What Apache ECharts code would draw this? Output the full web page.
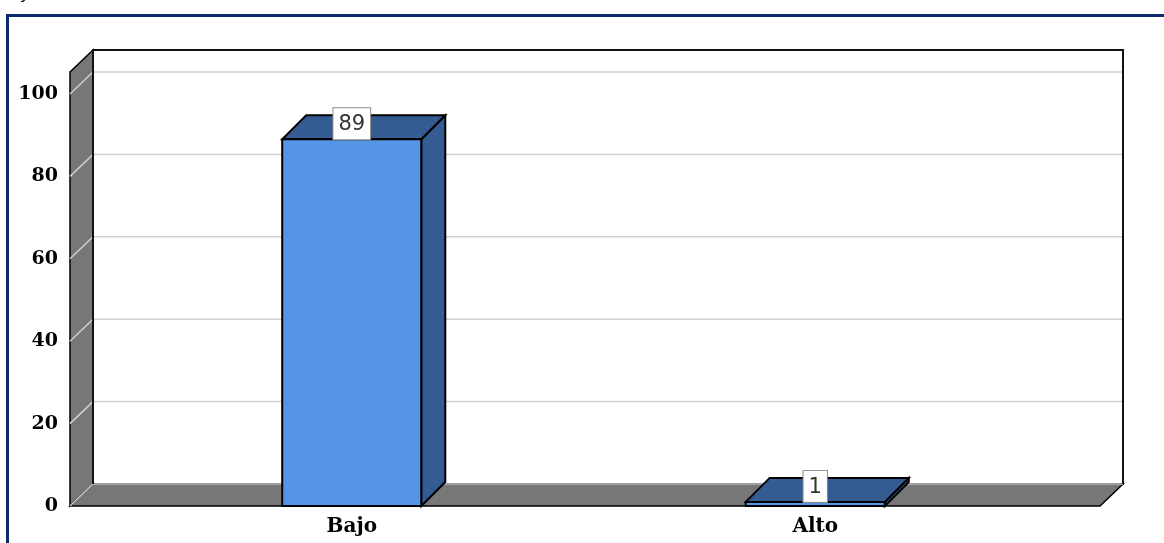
<!DOCTYPE html>
<html>
<head>
<meta charset="utf-8">
<script src="https://cdn.jsdelivr.net/npm/echarts@6/dist/echarts.min.js"></script>
<style>
  html, body { margin: 0; padding: 0; background: #ffffff; }
  #chart { width: 1164px; height: 543px; }
</style>
</head>
<body>
<div id="chart"></div>
<script>
// Categories, values and axis ticks
const categories = ['Bajo', 'Alto'];
const values = [89, 1];
const yTicks = [0, 20, 40, 60, 80, 100];

// 3D look
const WALL_DX = 23, WALL_DY = 22;   // depth of the walls
const BAR_DX = 24, BAR_DY = 24;     // depth of the bars
const PAD_LEFT = 50, PAD_RIGHT = 53; // wall extension beyond the category band
const FRONT_BLUE = '#5595E5';
const DARK_BLUE = '#345C93';
const WALL_GRAY = '#777777';
const GRID_GRAY = '#cfcfcf';

const chart = echarts.init(document.getElementById('chart'), null, { renderer: 'canvas' });

function poly(points, fill, z2, stroke, lw) {
  return {
    type: 'polygon', z2: z2,
    shape: { points: points },
    style: { fill: fill, stroke: stroke || '#000', lineWidth: lw == null ? 1.5 : lw, lineJoin: 'miter' }
  };
}

// Back wall, side wall, floor and gridlines
function renderFrame(params, api) {
  const cs = params.coordSys;
  const L = cs.x - PAD_LEFT;
  const R = cs.x + cs.width + PAD_RIGHT;
  const y0 = api.coord([0, 0])[1];
  const yTop = api.coord([0, yTicks[yTicks.length - 1]])[1] - WALL_DY;
  const children = [];
  // back wall
  children.push({
    type: 'rect', z2: 1,
    shape: { x: L + WALL_DX, y: yTop - WALL_DY, width: R - L, height: y0 - yTop },
    style: { fill: '#ffffff', stroke: '#111', lineWidth: 2 }
  });
  // left wall
  children.push(poly([[L, yTop], [L + WALL_DX, yTop - WALL_DY], [L + WALL_DX, y0 - WALL_DY], [L, y0]], WALL_GRAY, 2));
  // floor
  children.push(poly([[L, y0], [R, y0], [R + WALL_DX, y0 - WALL_DY], [L + WALL_DX, y0 - WALL_DY]], WALL_GRAY, 2));
  // gridlines: diagonal on the side wall, horizontal on the back wall
  yTicks.forEach(function (v) {
    const y = api.coord([0, v])[1];
    children.push({
      type: 'polyline', z2: 3,
      shape: { points: [[L, y], [L + WALL_DX, y - WALL_DY], [R + WALL_DX, y - WALL_DY]] },
      style: { fill: null, stroke: GRID_GRAY, lineWidth: 1.5 }
    });
  });
  // dark edges of the back wall over the gridline ends
  children.push({
    type: 'polyline', z2: 4,
    shape: { points: [[L + WALL_DX, y0 - WALL_DY], [L + WALL_DX, yTop - WALL_DY], [R + WALL_DX, yTop - WALL_DY], [R + WALL_DX, y0 - WALL_DY]] },
    style: { fill: null, stroke: '#111', lineWidth: 2 }
  });
  return { type: 'group', children: children };
}

// 3D bars with a boxed value label
function renderBar(params, api) {
  const idx = api.value(0);
  const val = api.value(1);
  const top = api.coord([idx, val]);
  const base = api.coord([idx, 0]);
  const w = api.size([1, 0])[0] * 0.30;
  const x0 = top[0] - w / 2, x1 = top[0] + w / 2;
  const yT = top[1], yB = base[1];
  const children = [];
  // side face
  children.push(poly([[x1, yT], [x1 + BAR_DX, yT - BAR_DY], [x1 + BAR_DX, yB - BAR_DY], [x1, yB]], DARK_BLUE, 1, '#000', 2));
  // top face
  children.push(poly([[x0, yT], [x1, yT], [x1 + BAR_DX, yT - BAR_DY], [x0 + BAR_DX, yT - BAR_DY]], DARK_BLUE, 2, '#000', 2));
  // front face
  children.push({
    type: 'rect', z2: 3,
    shape: { x: x0, y: yT, width: w, height: yB - yT },
    style: { fill: FRONT_BLUE, stroke: '#000', lineWidth: 2 }
  });
  // value label
  children.push({
    type: 'text', z2: 5,
    style: {
      text: String(val),
      x: top[0], y: yT,
      align: 'center', verticalAlign: 'bottom',
      fill: '#333333',
      font: '21px "DejaVu Sans"',
      lineHeight: 23,
      backgroundColor: '#ffffff',
      borderColor: '#8a8a8a', borderWidth: 1,
      padding: [5, 5, 3, 5]
    }
  });
  return { type: 'group', children: children };
}

const option = {
  animation: false,
  backgroundColor: '#ffffff',
  grid: { left: 120, right: 117, top: 94, bottom: 37 },
  xAxis: {
    type: 'category',
    data: categories,
    axisLine: { show: false },
    axisTick: { show: false },
    splitLine: { show: false },
    axisLabel: { margin: 11, color: '#000', fontFamily: 'DejaVu Serif', fontWeight: 'bold', fontSize: 20 }
  },
  yAxis: {
    type: 'value',
    min: 0, max: 100, interval: 20,
    axisLine: { show: false },
    axisTick: { show: false },
    splitLine: { show: false },
    axisLabel: {
      margin: 62, color: '#000', fontFamily: 'DejaVu Serif', fontWeight: 'bold', fontSize: 19,
      formatter: function (v) { return yTicks.indexOf(v) >= 0 ? String(v) : ''; }
    }
  },
  graphic: [
    {
      type: 'rect', left: 5, top: 13, z: -10, silent: true,
      shape: { width: 1200, height: 600 },
      style: { fill: null, stroke: '#0B2A6B', lineWidth: 3 }
    },
    {
      type: 'text', left: 22, top: -14, silent: true,
      style: { text: 'y', font: 'italic 17px "Liberation Sans"', fill: '#000' }
    }
  ],
  series: [
    {
      type: 'custom', name: 'frame', z: 1, clip: false, silent: true,
      renderItem: renderFrame,
      data: [[0, 0]]
    },
    {
      type: 'custom', name: 'valores', z: 2, clip: false, silent: true,
      renderItem: renderBar,
      encode: { x: 0, y: 1 },
      data: values.map(function (v, i) { return [i, v]; })
    }
  ]
};

chart.setOption(option);
</script>
</body>
</html>
